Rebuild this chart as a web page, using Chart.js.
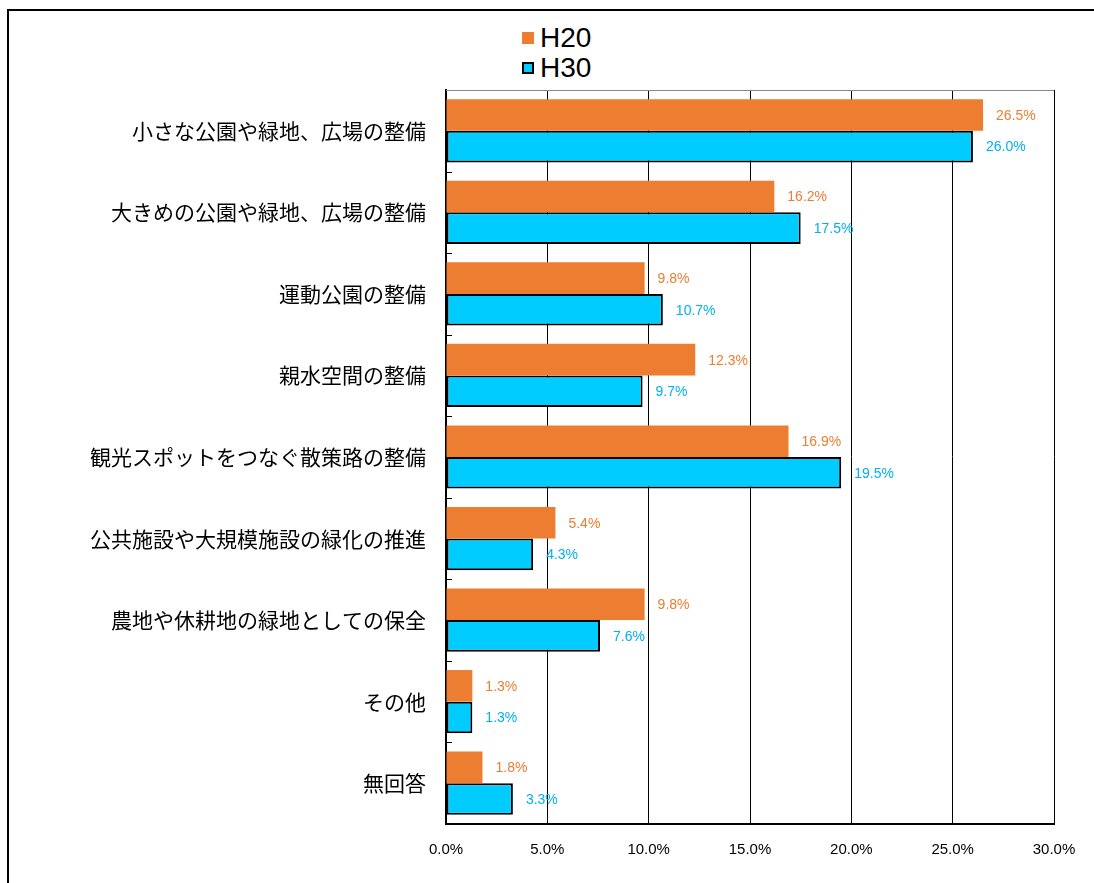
<!DOCTYPE html>
<html><head><meta charset="utf-8">
<script src="https://cdn.jsdelivr.net/npm/chart.js@4/dist/chart.umd.min.js"></script>
<style>
html,body{margin:0;padding:0;background:#fff;overflow:hidden;}
#wrap{position:relative;width:1094px;height:883px;overflow:hidden;}
#ftop{position:absolute;left:7px;top:9px;width:1087px;height:2px;background:#000;}
#fleft{position:absolute;left:7px;top:9px;width:2px;height:874px;background:#000;}
#legend{position:absolute;left:522px;top:23px;font-family:"Liberation Sans",Arial,sans-serif;font-size:28px;line-height:30px;color:#000;}
.li{display:flex;align-items:center;height:30px;}
.sw{width:12px;height:12px;margin-right:6px;box-sizing:border-box;}
canvas{position:absolute;left:0;top:0;}
</style></head>
<body><div id="wrap"><div id="ftop"></div><div id="fleft"></div>
<div id="legend"></div>
<canvas id="c" width="1094" height="883"></canvas></div>
<script>
const categories = ["小さな公園や緑地、広場の整備","大きめの公園や緑地、広場の整備","運動公園の整備","親水空間の整備","観光スポットをつなぐ散策路の整備","公共施設や大規模施設の緑化の推進","農地や休耕地の緑地としての保全","その他","無回答"];
const seriesNames = ["H20","H30"];
const h20 = [26.5,16.2,9.8,12.3,16.9,5.4,9.8,1.3,1.8];
const h30 = [26.0,17.5,10.7,9.7,19.5,4.3,7.6,1.3,3.3];
const xTicks = [0,5,10,15,20,25,30];

const orange = "#ED7D31", cyan = "#00CCFF", cyanText = "#00B0F0";

document.getElementById('legend').innerHTML =
  '<div class="li"><div class="sw" style="background:'+orange+'"></div>'+seriesNames[0]+'</div>'+
  '<div class="li"><div class="sw" style="background:'+cyan+';border:2px solid #000"></div>'+seriesNames[1]+'</div>';

const valueLabels = {
  id:'valueLabels',
  afterDatasetsDraw(chart){
    const ctx = chart.ctx;
    ctx.save();
    ctx.font = '14px "Liberation Sans Narrow", "Liberation Sans", Arial, sans-serif';
    ctx.textBaseline = 'middle';
    ctx.textAlign = 'left';
    chart.data.datasets.forEach((ds,i)=>{
      const meta = chart.getDatasetMeta(i);
      ctx.fillStyle = i===0 ? orange : cyanText;
      meta.data.forEach((bar,j)=>{
        ctx.fillText(ds.data[j].toFixed(1)+'%', bar.x+13, bar.y+1);
      });
    });
    ctx.restore();
  }
};
const extras = {
  id:'extras',
  beforeDatasetsDraw(chart){
    const {ctx, chartArea:a, scales:{y}} = chart;
    ctx.save();
    ctx.strokeStyle = '#888'; ctx.lineWidth = 1;
    ctx.beginPath(); ctx.moveTo(a.left, a.top+0.5); ctx.lineTo(a.right, a.top+0.5); ctx.stroke();
    ctx.strokeStyle = '#000';
    ctx.beginPath();
    for(let i=1;i<categories.length;i++){
      const yy = Math.round((y.getPixelForValue(i-1)+y.getPixelForValue(i))/2)+0.5;
      ctx.moveTo(a.left, yy); ctx.lineTo(a.left+6, yy);
    }
    ctx.stroke();
    ctx.restore();
  }
};

new Chart(document.getElementById('c'), {
  type:'bar',
  data:{
    labels:categories,
    datasets:[
      {label:seriesNames[0], data:h20, backgroundColor:orange, borderWidth:0},
      {label:seriesNames[1], data:h30, backgroundColor:cyan, borderColor:'#000', borderWidth:2, borderSkipped:false}
    ]
  },
  options:{
    indexAxis:'y',
    responsive:false,
    animation:false,
    devicePixelRatio:1,
    layout:{padding:{left:0,right:40,top:90,bottom:0}},
    datasets:{bar:{categoryPercentage:0.775, barPercentage:1}},
    plugins:{legend:{display:false}, tooltip:{enabled:false}},
    scales:{
      x:{
        min:0,max:30,
        afterBuildTicks(s){ s.ticks = xTicks.map(v=>({value:v})); },
        afterFit(s){ s.height = 59; },
        grid:{color:'#000', lineWidth:1, drawTicks:false},
        border:{color:'#000', width:2},
        ticks:{padding:17, color:'#000', font:{family:'"Liberation Sans Narrow","Liberation Sans",Arial,sans-serif', size:15}, callback:v=>Number(v).toFixed(1)+'%'}
      },
      y:{
        afterFit(s){ s.width = 446; },
        grid:{display:false, drawTicks:false},
        border:{color:'#000', width:2},
        ticks:{padding:20, color:'#000', font:{family:'"Noto Sans CJK JP", sans-serif', size:21}}
      }
    }
  },
  plugins:[extras, valueLabels]
});
</script></body></html>
